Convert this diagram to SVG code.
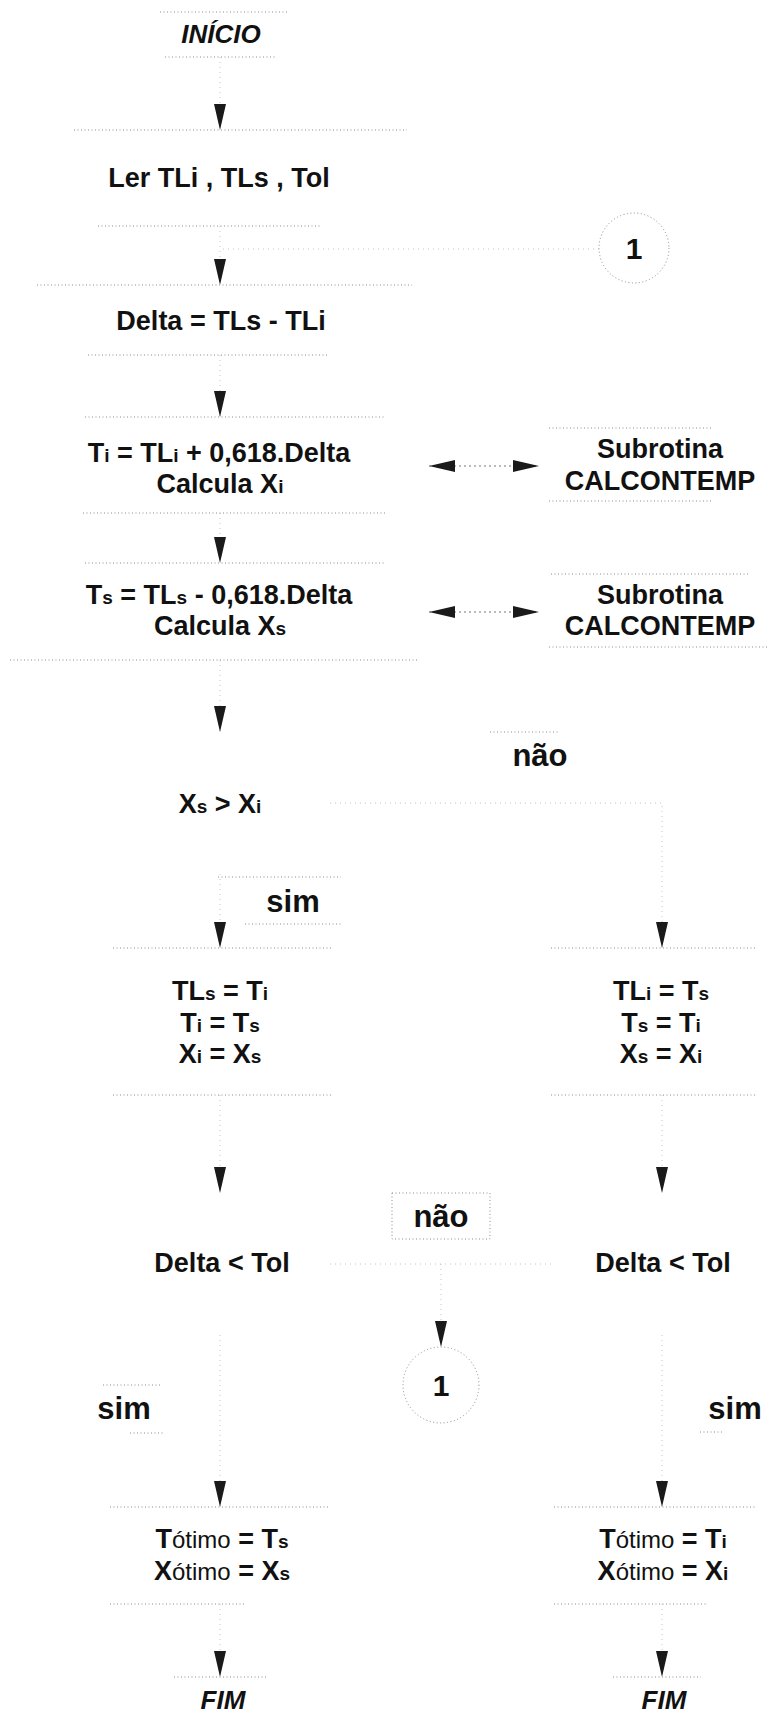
<svg xmlns="http://www.w3.org/2000/svg" width="768" height="1721" viewBox="0 0 768 1721">
<style>
  .t{font-family:"Liberation Sans",Arial,sans-serif;font-weight:bold;font-size:27px;fill:#111;text-anchor:middle}
  .it{font-style:italic;font-size:26px}
  .lb{font-size:31px}
  .num{font-size:30px}
  .sb{font-size:19px}
  .ot{font-weight:normal;font-size:24px}
  .edge{stroke:#8c8c8c;stroke-width:1;stroke-dasharray:1 2.5;fill:none}
  .conn{stroke:#c4c4c4;stroke-width:1;stroke-dasharray:1 4;fill:none}
  .dbl{stroke:#777;stroke-width:1;stroke-dasharray:2 3;fill:none}
</style>
<defs>
  <marker id="ah" viewBox="0 0 26 12" refX="26" refY="6" markerWidth="26" markerHeight="12" markerUnits="userSpaceOnUse" orient="auto-start-reverse">
    <path d="M0,0 L26,6 L0,12 Z" fill="#1a1a1a"/>
  </marker>
</defs>
<rect width="768" height="1721" fill="#fff"/>

<g id="connectors">
  <path class="conn" d="M220,57 V130" marker-end="url(#ah)"/>
  <path class="conn" d="M220,226 V285" marker-end="url(#ah)"/>
  <path class="conn" d="M599,249 H220"/>
  <path class="conn" d="M220,355 V417" marker-end="url(#ah)"/>
  <path class="dbl" d="M429,466 H539" marker-start="url(#ah)" marker-end="url(#ah)"/>
  <path class="conn" d="M220,513 V563" marker-end="url(#ah)"/>
  <path class="dbl" d="M429,612 H539" marker-start="url(#ah)" marker-end="url(#ah)"/>
  <path class="conn" d="M220,660 V732" marker-end="url(#ah)"/>
  <path class="conn" d="M330,803 H662 V948" marker-end="url(#ah)"/>
  <path class="conn" d="M220,874 V948" marker-end="url(#ah)"/>
  <path class="conn" d="M220,1095 V1193" marker-end="url(#ah)"/>
  <path class="conn" d="M662,1095 V1193" marker-end="url(#ah)"/>
  <path class="conn" d="M330,1264 H552"/>
  <path class="conn" d="M441,1264 V1347" marker-end="url(#ah)"/>
  <path class="conn" d="M220,1335 V1507" marker-end="url(#ah)"/>
  <path class="conn" d="M662,1335 V1507" marker-end="url(#ah)"/>
  <path class="conn" d="M220,1604 V1677" marker-end="url(#ah)"/>
  <path class="conn" d="M662,1604 V1677" marker-end="url(#ah)"/>
</g>

<g id="inicio">
  <path class="edge" d="M160,12 H287 M165,57 H275"/>
  <text class="t it" x="221" y="43">INÍCIO</text>
</g>

<g id="ler">
  <path class="edge" d="M74,130 H407 M98,226 H321"/>
  <text class="t" x="219" y="187">Ler TLi , TLs , Tol</text>
</g>

<g id="conector1-topo">
  <circle class="edge" cx="634" cy="248" r="35"/>
  <text class="t num" x="634" y="259">1</text>
</g>

<g id="delta">
  <path class="edge" d="M37,285 H412 M88,355 H328"/>
  <text class="t" x="221" y="330">Delta = TLs - TLi</text>
</g>

<g id="calc-ti">
  <path class="edge" d="M85,417 H385 M83,513 H385"/>
  <text class="t" x="219" y="462">T<tspan class="sb">i</tspan> = TL<tspan class="sb">i</tspan> + 0,618.Delta</text>
  <text class="t" x="220" y="493">Calcula X<tspan class="sb">i</tspan></text>
</g>

<g id="subrotina1">
  <path class="edge" d="M549,428 H711 M549,501 H711"/>
  <text class="t" x="660" y="458">Subrotina</text>
  <text class="t" x="660" y="490">CALCONTEMP</text>
</g>

<g id="calc-ts">
  <path class="edge" d="M85,563 H385 M10,660 H419"/>
  <text class="t" x="219" y="604">T<tspan class="sb">s</tspan> = TL<tspan class="sb">s</tspan> - 0,618.Delta</text>
  <text class="t" x="220" y="635">Calcula X<tspan class="sb">s</tspan></text>
</g>

<g id="subrotina2">
  <path class="edge" d="M551,574 H748 M549,647 H768"/>
  <text class="t" x="660" y="604">Subrotina</text>
  <text class="t" x="660" y="635">CALCONTEMP</text>
</g>

<g id="decisao-xs-xi">
  <text class="t" x="220" y="813">X<tspan class="sb">s</tspan> &gt; X<tspan class="sb">i</tspan></text>
</g>

<g id="rotulo-nao-1">
  <path class="edge" d="M490,732 H559"/>
  <text class="t lb" x="540" y="766">não</text>
</g>

<g id="rotulo-sim-1">
  <path class="edge" d="M218,877 H341 M245,924 H343"/>
  <text class="t lb" x="293" y="912">sim</text>
</g>

<g id="troca-esq">
  <path class="edge" d="M113,948 H333 M113,1095 H333"/>
  <text class="t" x="220" y="1000">TL<tspan class="sb">s</tspan> = T<tspan class="sb">i</tspan></text>
  <text class="t" x="220" y="1032">T<tspan class="sb">i</tspan> = T<tspan class="sb">s</tspan></text>
  <text class="t" x="220" y="1063">X<tspan class="sb">i</tspan> = X<tspan class="sb">s</tspan></text>
</g>

<g id="troca-dir">
  <path class="edge" d="M551,948 H755 M551,1095 H755"/>
  <text class="t" x="661" y="1000">TL<tspan class="sb">i</tspan> = T<tspan class="sb">s</tspan></text>
  <text class="t" x="661" y="1032">T<tspan class="sb">s</tspan> = T<tspan class="sb">i</tspan></text>
  <text class="t" x="661" y="1063">X<tspan class="sb">s</tspan> = X<tspan class="sb">i</tspan></text>
</g>

<g id="rotulo-nao-2">
  <rect class="edge" x="392" y="1193" width="98" height="46"/>
  <text class="t lb" x="441" y="1227">não</text>
</g>

<g id="decisao-esq">
  <text class="t" x="222" y="1272">Delta &lt; Tol</text>
</g>

<g id="decisao-dir">
  <text class="t" x="663" y="1272">Delta &lt; Tol</text>
</g>

<g id="conector1-baixo">
  <circle class="edge" cx="441" cy="1385" r="38"/>
  <text class="t num" x="441" y="1396">1</text>
</g>

<g id="rotulo-sim-esq">
  <path class="edge" d="M103,1385 H160 M130,1433 H165"/>
  <text class="t lb" x="124" y="1419">sim</text>
</g>

<g id="rotulo-sim-dir">
  <path class="edge" d="M700,1432 H722"/>
  <text class="t lb" x="735" y="1419">sim</text>
</g>

<g id="otimo-esq">
  <path class="edge" d="M110,1507 H330 M110,1604 H245"/>
  <text class="t" x="222" y="1548">T<tspan class="ot">ótimo</tspan> = T<tspan class="sb">s</tspan></text>
  <text class="t" x="222" y="1580">X<tspan class="ot">ótimo</tspan> = X<tspan class="sb">s</tspan></text>
</g>

<g id="otimo-dir">
  <path class="edge" d="M554,1507 H755 M554,1604 H708"/>
  <text class="t" x="663" y="1548">T<tspan class="ot">ótimo</tspan> = T<tspan class="sb">i</tspan></text>
  <text class="t" x="663" y="1580">X<tspan class="ot">ótimo</tspan> = X<tspan class="sb">i</tspan></text>
</g>

<g id="fim-esq">
  <path class="edge" d="M174,1677 H267"/>
  <text class="t it" x="223" y="1709">FIM</text>
</g>

<g id="fim-dir">
  <path class="edge" d="M613,1677 H701"/>
  <text class="t it" x="664" y="1709">FIM</text>
</g>
</svg>
